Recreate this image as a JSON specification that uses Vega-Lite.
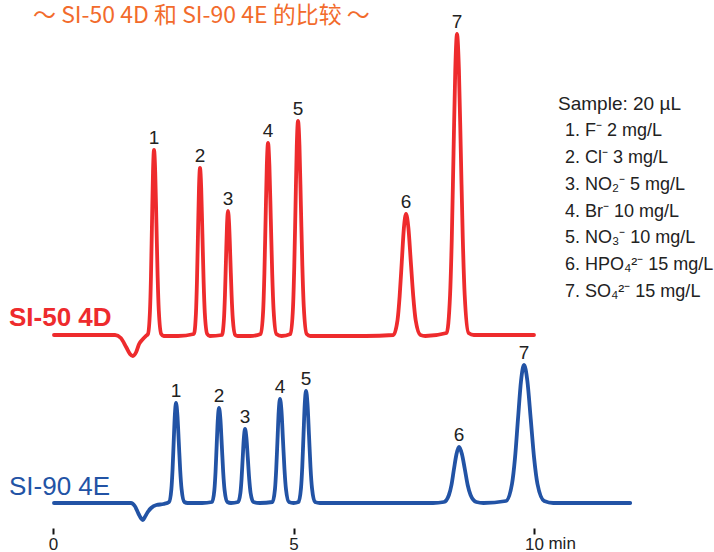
{
  "$schema": "https://vega.github.io/schema/vega-lite/v6.json",
  "width": 714,
  "height": 552,
  "autosize": {"type": "none"},
  "padding": 0,
  "background": "white",
  "config": {"view": {"stroke": null}, "font": "Liberation Sans"},
  "datasets": {
    "trace": [
      {"series":"SI-50 4D","time":0.02,"signal":193},{"series":"SI-50 4D","time":1.29,"signal":193},{"series":"SI-50 4D","time":1.41,"signal":190},{"series":"SI-50 4D","time":1.52,"signal":181},{"series":"SI-50 4D","time":1.60,"signal":174},{"series":"SI-50 4D","time":1.66,"signal":172},{"series":"SI-50 4D","time":1.73,"signal":176},{"series":"SI-50 4D","time":1.79,"signal":184},{"series":"SI-50 4D","time":1.87,"signal":189},{"series":"SI-50 4D","time":1.93,"signal":192},
      {"series":"SI-50 4D","time":1.974,"signal":194},{"series":"SI-50 4D","time":2.016,"signal":217},{"series":"SI-50 4D","time":2.037,"signal":252},{"series":"SI-50 4D","time":2.058,"signal":305},{"series":"SI-50 4D","time":2.079,"signal":356},{"series":"SI-50 4D","time":2.10,"signal":378},{"series":"SI-50 4D","time":2.125,"signal":356},{"series":"SI-50 4D","time":2.15,"signal":305},{"series":"SI-50 4D","time":2.175,"signal":252},{"series":"SI-50 4D","time":2.20,"signal":217},{"series":"SI-50 4D","time":2.25,"signal":194},{"series":"SI-50 4D","time":2.30,"signal":192},
      {"series":"SI-50 4D","time":2.6,"signal":192},
      {"series":"SI-50 4D","time":2.93,"signal":194},{"series":"SI-50 4D","time":2.972,"signal":215},{"series":"SI-50 4D","time":2.993,"signal":247},{"series":"SI-50 4D","time":3.014,"signal":294},{"series":"SI-50 4D","time":3.035,"signal":340},{"series":"SI-50 4D","time":3.056,"signal":360},{"series":"SI-50 4D","time":3.081,"signal":340},{"series":"SI-50 4D","time":3.106,"signal":294},{"series":"SI-50 4D","time":3.131,"signal":247},{"series":"SI-50 4D","time":3.156,"signal":215},{"series":"SI-50 4D","time":3.206,"signal":194},{"series":"SI-50 4D","time":3.26,"signal":192},
      {"series":"SI-50 4D","time":3.512,"signal":193},{"series":"SI-50 4D","time":3.554,"signal":209},{"series":"SI-50 4D","time":3.575,"signal":233},{"series":"SI-50 4D","time":3.596,"signal":268},{"series":"SI-50 4D","time":3.617,"signal":302},{"series":"SI-50 4D","time":3.638,"signal":317},{"series":"SI-50 4D","time":3.663,"signal":302},{"series":"SI-50 4D","time":3.688,"signal":268},{"series":"SI-50 4D","time":3.713,"signal":233},{"series":"SI-50 4D","time":3.738,"signal":209},{"series":"SI-50 4D","time":3.788,"signal":193},{"series":"SI-50 4D","time":3.84,"signal":192},
      {"series":"SI-50 4D","time":4.1,"signal":192},
      {"series":"SI-50 4D","time":4.32,"signal":194},{"series":"SI-50 4D","time":4.37,"signal":218},{"series":"SI-50 4D","time":4.395,"signal":255},{"series":"SI-50 4D","time":4.42,"signal":309},{"series":"SI-50 4D","time":4.445,"signal":362},{"series":"SI-50 4D","time":4.47,"signal":385},{"series":"SI-50 4D","time":4.499,"signal":362},{"series":"SI-50 4D","time":4.528,"signal":309},{"series":"SI-50 4D","time":4.557,"signal":255},{"series":"SI-50 4D","time":4.586,"signal":218},{"series":"SI-50 4D","time":4.644,"signal":194},{"series":"SI-50 4D","time":4.75,"signal":192},
      {"series":"SI-50 4D","time":4.938,"signal":194},{"series":"SI-50 4D","time":4.99,"signal":221},{"series":"SI-50 4D","time":5.016,"signal":262},{"series":"SI-50 4D","time":5.042,"signal":322},{"series":"SI-50 4D","time":5.068,"signal":382},{"series":"SI-50 4D","time":5.094,"signal":407},{"series":"SI-50 4D","time":5.124,"signal":382},{"series":"SI-50 4D","time":5.154,"signal":322},{"series":"SI-50 4D","time":5.184,"signal":262},{"series":"SI-50 4D","time":5.214,"signal":221},{"series":"SI-50 4D","time":5.274,"signal":194},{"series":"SI-50 4D","time":5.35,"signal":192},
      {"series":"SI-50 4D","time":6.5,"signal":192},
      {"series":"SI-50 4D","time":7.075,"signal":193},{"series":"SI-50 4D","time":7.163,"signal":208},{"series":"SI-50 4D","time":7.207,"signal":232},{"series":"SI-50 4D","time":7.251,"signal":266},{"series":"SI-50 4D","time":7.295,"signal":300},{"series":"SI-50 4D","time":7.339,"signal":314},{"series":"SI-50 4D","time":7.389,"signal":300},{"series":"SI-50 4D","time":7.439,"signal":266},{"series":"SI-50 4D","time":7.489,"signal":232},{"series":"SI-50 4D","time":7.539,"signal":208},{"series":"SI-50 4D","time":7.639,"signal":193},{"series":"SI-50 4D","time":7.74,"signal":192},
      {"series":"SI-50 4D","time":8.183,"signal":195},{"series":"SI-50 4D","time":8.255,"signal":233},{"series":"SI-50 4D","time":8.291,"signal":290},{"series":"SI-50 4D","time":8.327,"signal":375},{"series":"SI-50 4D","time":8.363,"signal":458},{"series":"SI-50 4D","time":8.399,"signal":494},{"series":"SI-50 4D","time":8.439,"signal":458},{"series":"SI-50 4D","time":8.479,"signal":375},{"series":"SI-50 4D","time":8.519,"signal":290},{"series":"SI-50 4D","time":8.559,"signal":233},{"series":"SI-50 4D","time":8.639,"signal":195},{"series":"SI-50 4D","time":8.75,"signal":193},
      {"series":"SI-50 4D","time":10.0,"signal":193},
      {"series":"SI-90 4E","time":0.02,"signal":25},{"series":"SI-90 4E","time":1.62,"signal":25},{"series":"SI-90 4E","time":1.70,"signal":22},{"series":"SI-90 4E","time":1.78,"signal":14},{"series":"SI-90 4E","time":1.84,"signal":9},{"series":"SI-90 4E","time":1.87,"signal":8},{"series":"SI-90 4E","time":1.91,"signal":11},{"series":"SI-90 4E","time":1.97,"signal":16},{"series":"SI-90 4E","time":2.04,"signal":20},{"series":"SI-90 4E","time":2.15,"signal":23},{"series":"SI-90 4E","time":2.30,"signal":24},
      {"series":"SI-90 4E","time":2.413,"signal":26},{"series":"SI-90 4E","time":2.461,"signal":39},{"series":"SI-90 4E","time":2.485,"signal":58},{"series":"SI-90 4E","time":2.509,"signal":86},{"series":"SI-90 4E","time":2.533,"signal":113},{"series":"SI-90 4E","time":2.557,"signal":125},{"series":"SI-90 4E","time":2.586,"signal":113},{"series":"SI-90 4E","time":2.615,"signal":86},{"series":"SI-90 4E","time":2.644,"signal":58},{"series":"SI-90 4E","time":2.673,"signal":39},{"series":"SI-90 4E","time":2.731,"signal":26},{"series":"SI-90 4E","time":2.8,"signal":25},
      {"series":"SI-90 4E","time":3.1,"signal":25},
      {"series":"SI-90 4E","time":3.307,"signal":26},{"series":"SI-90 4E","time":3.355,"signal":38},{"series":"SI-90 4E","time":3.379,"signal":56},{"series":"SI-90 4E","time":3.403,"signal":83},{"series":"SI-90 4E","time":3.427,"signal":109},{"series":"SI-90 4E","time":3.451,"signal":120},{"series":"SI-90 4E","time":3.48,"signal":109},{"series":"SI-90 4E","time":3.509,"signal":83},{"series":"SI-90 4E","time":3.538,"signal":56},{"series":"SI-90 4E","time":3.567,"signal":38},{"series":"SI-90 4E","time":3.625,"signal":26},{"series":"SI-90 4E","time":3.7,"signal":25},
      {"series":"SI-90 4E","time":3.848,"signal":26},{"series":"SI-90 4E","time":3.896,"signal":35},{"series":"SI-90 4E","time":3.92,"signal":49},{"series":"SI-90 4E","time":3.944,"signal":70},{"series":"SI-90 4E","time":3.968,"signal":90},{"series":"SI-90 4E","time":3.992,"signal":99},{"series":"SI-90 4E","time":4.021,"signal":90},{"series":"SI-90 4E","time":4.05,"signal":70},{"series":"SI-90 4E","time":4.079,"signal":49},{"series":"SI-90 4E","time":4.108,"signal":35},{"series":"SI-90 4E","time":4.166,"signal":26},{"series":"SI-90 4E","time":4.3,"signal":25},
      {"series":"SI-90 4E","time":4.563,"signal":26},{"series":"SI-90 4E","time":4.615,"signal":39},{"series":"SI-90 4E","time":4.641,"signal":59},{"series":"SI-90 4E","time":4.667,"signal":88},{"series":"SI-90 4E","time":4.693,"signal":117},{"series":"SI-90 4E","time":4.719,"signal":129},{"series":"SI-90 4E","time":4.75,"signal":117},{"series":"SI-90 4E","time":4.781,"signal":88},{"series":"SI-90 4E","time":4.812,"signal":59},{"series":"SI-90 4E","time":4.843,"signal":39},{"series":"SI-90 4E","time":4.905,"signal":26},{"series":"SI-90 4E","time":5.0,"signal":25},
      {"series":"SI-90 4E","time":5.104,"signal":26},{"series":"SI-90 4E","time":5.156,"signal":40},{"series":"SI-90 4E","time":5.182,"signal":61},{"series":"SI-90 4E","time":5.208,"signal":93},{"series":"SI-90 4E","time":5.234,"signal":124},{"series":"SI-90 4E","time":5.26,"signal":137},{"series":"SI-90 4E","time":5.291,"signal":124},{"series":"SI-90 4E","time":5.322,"signal":93},{"series":"SI-90 4E","time":5.353,"signal":61},{"series":"SI-90 4E","time":5.384,"signal":40},{"series":"SI-90 4E","time":5.446,"signal":26},{"series":"SI-90 4E","time":5.55,"signal":25},
      {"series":"SI-90 4E","time":7.9,"signal":25},
      {"series":"SI-90 4E","time":8.126,"signal":26},{"series":"SI-90 4E","time":8.231,"signal":33},{"series":"SI-90 4E","time":8.284,"signal":43},{"series":"SI-90 4E","time":8.336,"signal":59},{"series":"SI-90 4E","time":8.389,"signal":74},{"series":"SI-90 4E","time":8.441,"signal":81},{"series":"SI-90 4E","time":8.501,"signal":74},{"series":"SI-90 4E","time":8.561,"signal":59},{"series":"SI-90 4E","time":8.621,"signal":43},{"series":"SI-90 4E","time":8.681,"signal":33},{"series":"SI-90 4E","time":8.801,"signal":26},{"series":"SI-90 4E","time":8.95,"signal":25},
      {"series":"SI-90 4E","time":9.417,"signal":27},{"series":"SI-90 4E","time":9.542,"signal":44},{"series":"SI-90 4E","time":9.605,"signal":70},{"series":"SI-90 4E","time":9.667,"signal":109},{"series":"SI-90 4E","time":9.73,"signal":147},{"series":"SI-90 4E","time":9.792,"signal":163},{"series":"SI-90 4E","time":9.862,"signal":147},{"series":"SI-90 4E","time":9.932,"signal":109},{"series":"SI-90 4E","time":10.002,"signal":70},{"series":"SI-90 4E","time":10.072,"signal":44},{"series":"SI-90 4E","time":10.212,"signal":27},{"series":"SI-90 4E","time":10.4,"signal":25},
      {"series":"SI-90 4E","time":12.0,"signal":25}
    ],
    "labels": [
      {"series":"SI-50 4D","peak":"1","time":2.10,"signal":378},
      {"series":"SI-50 4D","peak":"2","time":3.056,"signal":360},
      {"series":"SI-50 4D","peak":"3","time":3.638,"signal":317},
      {"series":"SI-50 4D","peak":"4","time":4.47,"signal":385},
      {"series":"SI-50 4D","peak":"5","time":5.094,"signal":407},
      {"series":"SI-50 4D","peak":"6","time":7.339,"signal":314},
      {"series":"SI-50 4D","peak":"7","time":8.399,"signal":494},
      {"series":"SI-90 4E","peak":"1","time":2.557,"signal":125},
      {"series":"SI-90 4E","peak":"2","time":3.451,"signal":120},
      {"series":"SI-90 4E","peak":"3","time":3.992,"signal":99},
      {"series":"SI-90 4E","peak":"4","time":4.719,"signal":129},
      {"series":"SI-90 4E","peak":"5","time":5.26,"signal":137},
      {"series":"SI-90 4E","peak":"6","time":8.441,"signal":81},
      {"series":"SI-90 4E","peak":"7","time":9.792,"signal":163}
    ]
  },
  "layer": [
    {
      "data": {"name": "trace"},
      "mark": {"type": "line", "interpolate": "monotone", "strokeWidth": 3.8, "strokeJoin": "round", "strokeCap": "round"},
      "encoding": {
        "x": {"field": "time", "type": "quantitative",
          "scale": {"domain": [-1.1019, 13.742], "nice": false, "zero": false},
          "axis": {"values": [0, 5, 10], "offset": -24, "domain": false, "grid": false, "tickSize": 6, "tickWidth": 2, "tickColor": "#111", "labelFontSize": 17, "labelColor": "#222", "labelBaseline": "alphabetic", "labelPadding": 15, "title": null, "labelFlush": false, "labelFont": "Liberation Sans"}},
        "y": {"field": "signal", "type": "quantitative", "scale": {"domain": [-24, 528], "nice": false, "zero": false}, "axis": null},
        "color": {"field": "series", "type": "nominal", "scale": {"domain": ["SI-50 4D", "SI-90 4E"], "range": ["#EE2B2D", "#2253A5"]}, "legend": null}
      }
    },
    {
      "data": {"name": "labels"},
      "mark": {"type": "text", "fontSize": 19, "dy": -6, "baseline": "alphabetic", "align": "center", "color": "#222", "font": "Liberation Sans"},
      "encoding": {
        "x": {"field": "time", "type": "quantitative"},
        "y": {"field": "signal", "type": "quantitative"},
        "text": {"field": "peak"}
      }
    },
    {
      "data": {"values": [{}]},
      "mark": {"type": "text", "text": "～ SI-50 4D 和 SI-90 4E 的比较 ～", "font": "Noto Sans CJK SC", "fontSize": 23, "color": "#F26B2C", "align": "left", "baseline": "alphabetic"},
      "encoding": {"x": {"datum": -0.416, "type": "quantitative"}, "y": {"datum": 505, "type": "quantitative"}}
    },
    {
      "data": {"values": [{}]},
      "mark": {"type": "text", "text": "SI-50 4D", "font": "Liberation Sans", "fontWeight": "bold", "fontSize": 26, "color": "#EE2B2D", "align": "left", "baseline": "alphabetic"},
      "encoding": {"x": {"datum": -0.915, "type": "quantitative"}, "y": {"datum": 202, "type": "quantitative"}}
    },
    {
      "data": {"values": [{}]},
      "mark": {"type": "text", "text": "SI-90 4E", "font": "Liberation Sans", "fontSize": 26, "color": "#2253A5", "align": "left", "baseline": "alphabetic"},
      "encoding": {"x": {"datum": -0.915, "type": "quantitative"}, "y": {"datum": 33, "type": "quantitative"}}
    },
    {
      "data": {"values": [{}]},
      "mark": {"type": "text", "text": "Sample: 20 µL", "font": "Liberation Sans", "fontSize": 19, "color": "#222", "align": "left", "baseline": "alphabetic"},
      "encoding": {"x": {"datum": 10.5, "type": "quantitative"}, "y": {"datum": 418, "type": "quantitative"}}
    },
    {
      "data": {"values": [{}]},
      "mark": {"type": "text", "text": ["1. F⁻ 2 mg/L", "2. Cl⁻ 3 mg/L", "3. NO₂⁻ 5 mg/L", "4. Br⁻ 10 mg/L", "5. NO₃⁻ 10 mg/L", "6. HPO₄²⁻ 15 mg/L", "7. SO₄²⁻ 15 mg/L"], "font": "Liberation Sans", "fontSize": 18, "lineHeight": 26.85, "color": "#222", "align": "left", "baseline": "top"},
      "encoding": {"x": {"datum": 10.644, "type": "quantitative"}, "y": {"datum": 406, "type": "quantitative"}}
    },
    {
      "data": {"values": [{}]},
      "mark": {"type": "text", "text": "min", "font": "Liberation Sans", "fontSize": 17, "color": "#222", "align": "left", "baseline": "alphabetic"},
      "encoding": {"x": {"datum": 10.3, "type": "quantitative"}, "y": {"datum": -21, "type": "quantitative"}}
    }
  ]
}
